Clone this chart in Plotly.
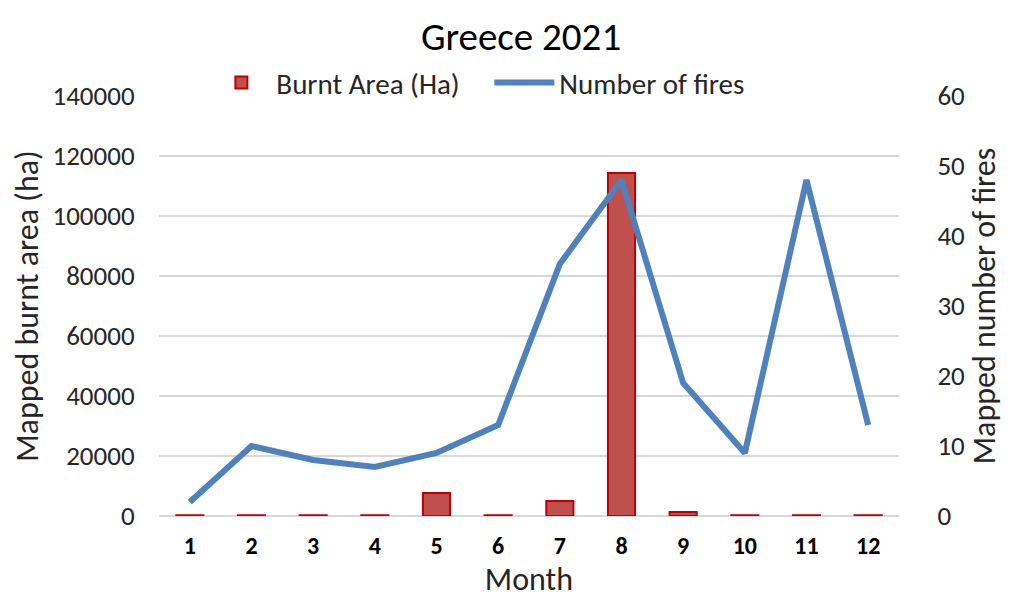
import plotly.graph_objects as go
from plotly.subplots import make_subplots

months = ["1", "2", "3", "4", "5", "6", "7", "8", "9", "10", "11", "12"]
burnt_area = [250, 250, 250, 250, 7700, 250, 5000, 114300, 1300, 250, 250, 250]
num_fires = [2, 10, 8, 7, 9, 13, 36, 48, 19, 9, 48, 13]

font_family = "Carlito, Calibri, Lato, sans-serif"
text_color = "#262626"

fig = make_subplots(specs=[[{"secondary_y": True}]])

fig.add_trace(go.Bar(x=months, y=burnt_area, name="Burnt Area (Ha)",
                     marker=dict(color="#C0504D", line=dict(color="#C00000", width=2))),
              secondary_y=False)
fig.add_trace(go.Scatter(x=months, y=num_fires, name="Number of fires", mode="lines",
                         line=dict(color="#4F81BD", width=6)),
              secondary_y=True)

# the page body adds ~8px on the top/left, margins are compensated for it
fig.update_layout(
    width=1024, height=600,
    margin=dict(l=151, r=133, t=88, b=92, autoexpand=False),
    paper_bgcolor="white", plot_bgcolor="white",
    font=dict(family=font_family, size=27, color=text_color),
    title=dict(text="Greece 2021", x=0.501, xanchor="center", y=0.952, yanchor="middle",
               font=dict(size=39, color="black")),
    bargap=0.56,
    legend=dict(orientation="h", x=0.064, xanchor="left", y=1.032, yanchor="middle",
                font=dict(size=29), bgcolor="rgba(0,0,0,0)", itemwidth=60,
                entrywidth=208, entrywidthmode="pixels", tracegroupgap=0),
)

fig.update_xaxes(title_text="Month", title_standoff=0, domain=[0, 1],
                 tickfont=dict(size=24, color="black"),
                 tickprefix="<b>", ticksuffix="</b>", showgrid=False, showline=False,
                 ticks="outside", ticklen=8, tickcolor="white", automargin=False)
fig.update_yaxes(title_text="Mapped burnt area (ha)", range=[0, 140000], dtick=20000,
                 showgrid=True, gridcolor="#D9D9D9", gridwidth=2, zeroline=True,
                 zerolinecolor="#D9D9D9", zerolinewidth=2, tickformat="d",
                 ticklen=18, tickcolor="white", ticks="outside", automargin=False,
                 title_standoff=6, secondary_y=False)
fig.update_yaxes(title_text="Mapped number of fires", range=[0, 60], dtick=10,
                 showgrid=False, zeroline=False, ticks="outside", ticklen=32, tickcolor="white",
                 automargin=False, title_standoff=0, secondary_y=True)

fig.write_html("out.html")
